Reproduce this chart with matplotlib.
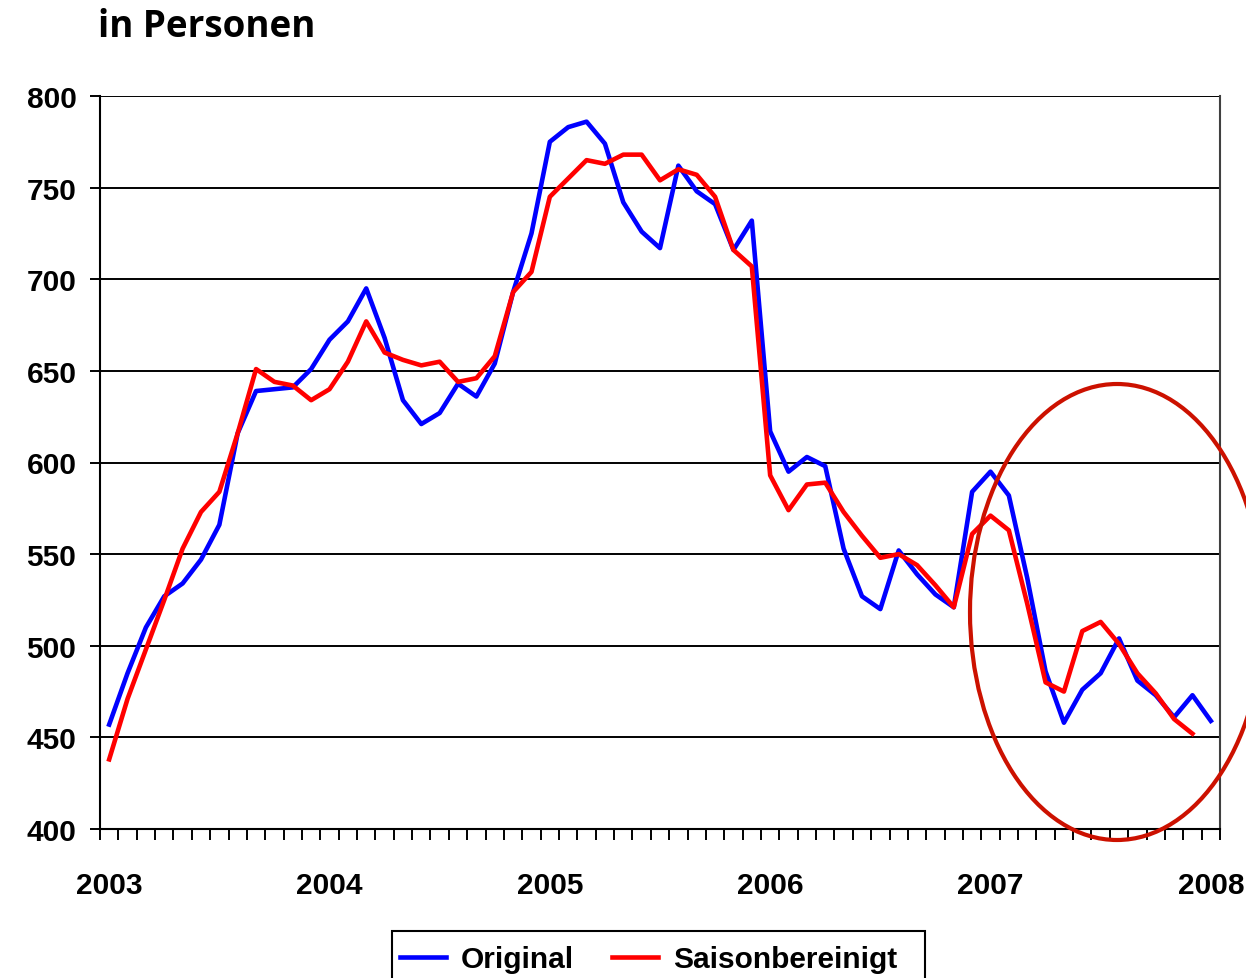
import numpy as np
import matplotlib.pyplot as plt
from matplotlib.patches import Ellipse, Rectangle

# --- Data (monthly, Jan 2003 - Jan 2008, in 1000 Personen) ---
years = ['2003', '2004', '2005', '2006', '2007', '2008']
original = [457, 485, 510, 527, 534, 547, 566, 616, 639, 640, 641, 651,
            667, 677, 695, 668, 634, 621, 627, 643, 636, 654, 693, 725,
            775, 783, 786, 774, 742, 726, 717, 762, 748, 741, 716, 732,
            617, 595, 603, 598, 553, 527, 520, 552, 539, 528, 521, 584,
            595, 582, 537, 486, 458, 476, 485, 504, 481, 473, 461, 473,
            459]
saisonbereinigt = [438, 471, 498, 525, 553, 573, 584, 616, 651, 644, 642, 634,
                   640, 655, 677, 660, 656, 653, 655, 644, 646, 658, 693, 704,
                   745, 755, 765, 763, 768, 768, 754, 760, 757, 745, 716, 707,
                   593, 574, 588, 589, 573, 560, 548, 550, 544, 533, 521, 561,
                   571, 563, 523, 480, 475, 508, 513, 501, 485, 474, 460, 452]

W, H = 1246, 979
fig = plt.figure(figsize=(W / 100, H / 100), dpi=100)
ax = fig.add_axes([100 / W, 1 - 830 / H, 1120 / W, 733 / H])

x_orig = np.arange(len(original))
x_sais = np.arange(len(saisonbereinigt))
ax.plot(x_orig, original, color='#0000FF', lw=3.3, label='Original', zorder=3)
ax.plot(x_sais, saisonbereinigt, color='#FF0000', lw=3.3, label='Saisonbereinigt', zorder=4)

ax.set_xlim(-0.5, 60.5)
ax.set_ylim(400, 800)

# y axis
ax.set_yticks(np.arange(400, 801, 50))
ax.grid(axis='y', color='black', lw=1.4)
ax.set_axisbelow(True)
ax.tick_params(axis='y', direction='out', length=7, width=1.4, pad=10,
               labelsize=21.5)

# x axis: year labels at Jan, month ticks between categories
ax.set_xticks(np.arange(0, 61, 12))
ax.set_xticklabels(years)
ax.set_xticks(np.arange(-0.5, 61, 1), minor=True)
ax.tick_params(axis='x', which='major', length=0, pad=30, labelsize=21.5)
ax.tick_params(axis='x', which='minor', direction='out', length=8, width=1.4)

for lab in ax.get_xticklabels() + ax.get_yticklabels():
    lab.set_fontweight('bold')
    lab.set_family('Liberation Sans')

ax.spines['top'].set_visible(False)
ax.spines['left'].set_linewidth(1.5)
ax.spines['bottom'].set_linewidth(1.5)
ax.spines['right'].set_color('#404040')
ax.spines['right'].set_linewidth(1.5)

fig.text(98 / W, 1 - 37 / H, 'in Personen', fontsize=26.5, fontweight='bold',
         family='Open Sans', va='baseline', ha='left')

# legend without frame, box drawn separately (runs off the bottom edge)
leg = fig.legend(loc='center left', bbox_to_anchor=(400 / W, 1 - 960 / H),
                 ncol=2, frameon=False, handlelength=1.55,
                 handletextpad=0.5, columnspacing=1.25, borderpad=0,
                 borderaxespad=0,
                 prop={'family': 'Liberation Sans', 'weight': 'bold', 'size': 21.5})
fig.add_artist(Rectangle((392 / W, 1 - 1000 / H), 533 / W, 68 / H,
                         transform=fig.transFigure, fill=False,
                         edgecolor='black', lw=1.5, clip_on=False))

# highlight ellipse
ell = Ellipse((1117 / W, 1 - 613 / H), 294 / W, 456 / H, transform=fig.transFigure,
              fill=False, edgecolor='#CC1100', lw=3, clip_on=False, zorder=10)
fig.add_artist(ell)

fig.savefig('out.png', dpi=100)
